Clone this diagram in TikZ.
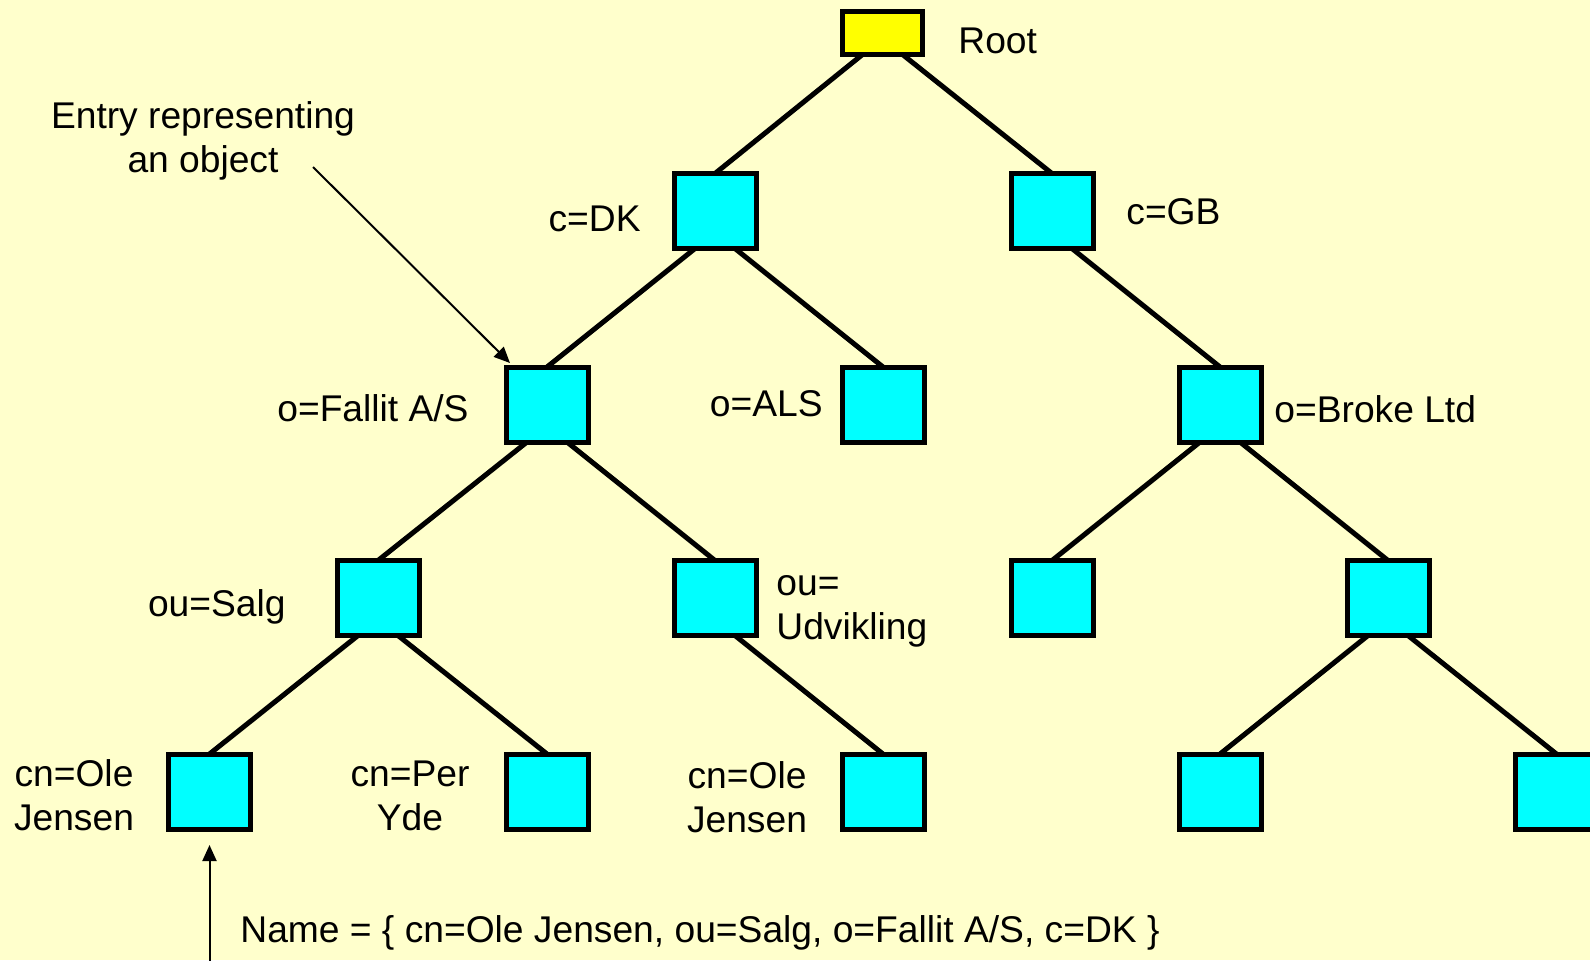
\documentclass[tikz,border=0pt]{standalone}
\usepackage{fontspec}
\setmainfont{Liberation Sans}
\usetikzlibrary{calc,arrows.meta,backgrounds}
\definecolor{paper}{HTML}{FFFFCC}
\definecolor{entrycyan}{HTML}{00FFFF}
\definecolor{rootyellow}{HTML}{FFFF00}

\begin{document}
\begin{tikzpicture}[x=0.5pt,y=-0.5pt,
  entry/.style={draw=black, line width=2.5pt, fill=entrycyan,
    minimum width=41pt, minimum height=37.5pt, inner sep=0pt, outer sep=0pt},
  rootentry/.style={entry, fill=rootyellow, minimum width=40pt, minimum height=21.5pt},
  branch/.style={line width=2.5pt, shorten <=-2pt, shorten >=-2pt},
  label/.style={font=\fontsize{18.6pt}{22pt}\selectfont, inner sep=0pt},
  pointer/.style={line width=1pt, -{Triangle[length=8pt,width=7pt]}}
]
\useasboundingbox (0,0) rectangle (1590,960);
\begin{pgfonlayer}{background}
  \fill[paper] (0,0) rectangle (1590,960);
\end{pgfonlayer}

% directory entries
\node[rootentry] (root) at (882.5,33) {};
\node[entry] (dk)     at (715,211) {};
\node[entry] (gb)     at (1052,211) {};
\node[entry] (fallit) at (547,404.5) {};
\node[entry] (als)    at (883,404.5) {};
\node[entry] (broke)  at (1220,404.5) {};
\node[entry] (salg)   at (378,598) {};
\node[entry] (udv)    at (715,598) {};
\node[entry] (gbou1)  at (1052,598) {};
\node[entry] (gbou2)  at (1388,598) {};
\node[entry] (ole1)   at (209.5,791.5) {};
\node[entry] (per)    at (547,791.5) {};
\node[entry] (ole2)   at (883,791.5) {};
\node[entry] (gbcn1)  at (1220,791.5) {};
\node[entry] (gbcn2)  at (1556.5,791.5) {};

% tree branches, behind the entries
\begin{pgfonlayer}{background}
  \foreach \p/\c/\s in {root/dk/-1, root/gb/1, dk/fallit/-1, dk/als/1,
      gb/broke/1, fallit/salg/-1, fallit/udv/1, broke/gbou1/-1, broke/gbou2/1,
      salg/ole1/-1, salg/per/1, udv/ole2/1, gbou2/gbcn1/-1, gbou2/gbcn2/1}
    \draw[branch] ($(\p.south)+(\s*20,0)$) -- (\c.north);
\end{pgfonlayer}

% labels (multi-line labels sit on the baseline of their last line)
\node[label, anchor=base west] (rootlbl) at (958,53) {Root};
\node[label, anchor=base, align=center] (note) at (203,172) {Entry representing\\an object};
\node[label, anchor=base east] (dklbl) at (641,231) {c=DK};
\node[label, anchor=base west] (gblbl) at (1126,224) {c=GB};
\node[label, anchor=base east] (fallitlbl) at (469,421) {o=Fallit A/S};
\node[label, anchor=base east] (alslbl) at (823,416) {o=ALS};
\node[label, anchor=base west] (brokelbl) at (1274,422) {o=Broke Ltd};
\node[label, anchor=base east] (salglbl) at (286,616) {ou=Salg};
\node[label, anchor=base west, align=left] (udvlbl) at (776,639) {ou=\\Udvikling};
\node[label, anchor=base, align=center] (ole1lbl) at (74,830) {cn=Ole\\Jensen};
\node[label, anchor=base, align=center] (perlbl) at (410,830) {cn=Per\\Yde};
\node[label, anchor=base, align=center] (ole2lbl) at (747,832) {cn=Ole\\Jensen};
\node[label, anchor=base west] (namelbl) at (240,942)
  {Name = \{ cn=Ole Jensen, ou=Salg, o=Fallit A/S, c=DK \}};

% pointer arrows
\coordinate (notetail) at (313,167);
\draw[pointer] (notetail) -- ($(fallit.north west)+(4,-4)$);
\coordinate (nametail) at (209.5,975);
\draw[pointer, shorten >=8pt] (nametail) -- (ole1.south);
\end{tikzpicture}
\end{document}
